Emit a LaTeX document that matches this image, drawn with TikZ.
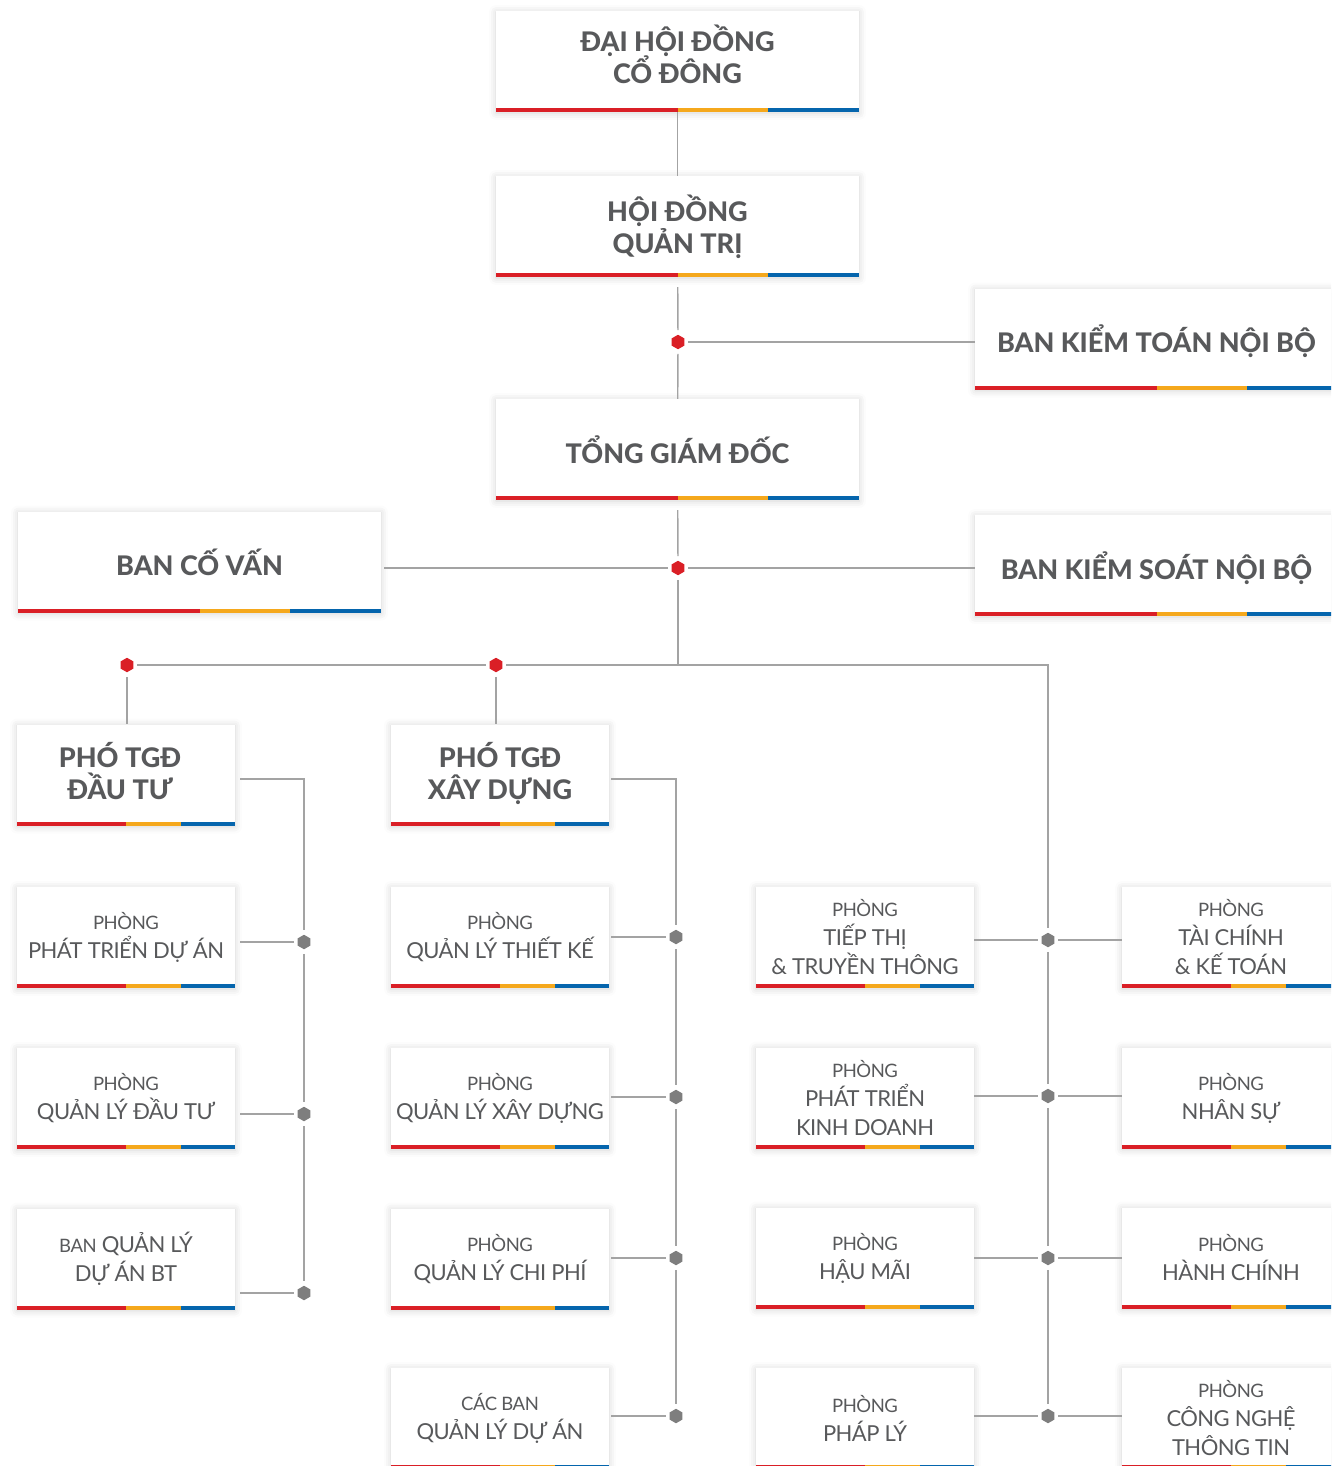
\documentclass[tikz,border=0pt]{standalone}
\usepackage{fontspec}
\setmainfont{Lato}
\newfontfamily\headfont{Lato Heavy}
\newfontfamily\deptfont[LetterSpace=-2.5]{Lato}
\usetikzlibrary{calc,shapes.geometric,shadows.blur}
\definecolor{barred}{HTML}{DA1F26}
\definecolor{barorange}{HTML}{F5A81C}
\definecolor{barblue}{HTML}{0565AD}
\definecolor{inkgray}{HTML}{58595B}
\definecolor{linegray}{HTML}{A3A3A3}
\definecolor{dotgray}{HTML}{7E7E7E}
\newcommand{\lead}{\fontsize{18.5}{29}\selectfont}
\newcommand{\headsize}{\headfont\fontsize{27}{32}\selectfont\setlength{\lineskiplimit}{-50pt}}

\tikzset{
  orgbox/.style={fill=white, inner sep=0pt, text=inkgray, align=center, minimum height=101pt,
    blur shadow={shadow xshift=0pt, shadow yshift=-1pt, shadow blur radius=7pt, shadow opacity=18}},
  wide/.style={orgbox, minimum width=363pt, font=\headsize},
  chief/.style={orgbox, minimum width=218pt, font=\headsize, text height=50pt, text depth=1pt},
  dept/.style={orgbox, minimum width=218pt, font=\deptfont\fontsize{22}{29}\selectfont},
  hub/.style={regular polygon, regular polygon sides=6, shape border rotate=30, minimum size=14.5pt,
    inner sep=0pt, outer sep=4pt, fill=dotgray},
  keyhub/.style={hub, fill=barred},
  link/.style={draw=linegray, line width=1.4pt},
}

\begin{document}
\begin{tikzpicture}[x=1pt, y=-1pt]
  \useasboundingbox (0,0) rectangle (1331,1466);
  \clip (0,0) rectangle (1331,1466);
  % top levels
  \node[wide, text height=45pt, text depth=0.5pt] (dhcd) at (677.5,61.5) {ĐẠI HỘI ĐỒNG\\CỔ ĐÔNG};
  \node[wide] (hdqt) at (677.5,226.5) {HỘI ĐỒNG\\QUẢN TRỊ};
  \node[wide, text depth=-7pt] (bktnb) at (1156.5,339) {BAN KIỂM TOÁN NỘI BỘ};
  \node[wide] (tgd) at (677.5,449.5) {TỔNG GIÁM ĐỐC};
  \node[wide, text depth=-8pt] (bcv) at (199.5,562) {BAN CỐ VẤN};
  \node[wide, text depth=-6pt] (bksnb) at (1156.5,565.5) {BAN KIỂM SOÁT NỘI BỘ};
  \node[chief] (ptdt) at (126,775) {PHÓ TGĐ\hspace*{12pt}\\ĐẦU TƯ\hspace*{12pt}};
  \node[chief] (ptxd) at (500,775) {PHÓ TGĐ\\XÂY DỰNG};
  % departments
  \node[dept] (pda) at (126,937.5) {{\lead PHÒNG}\\PHÁT TRIỂN DỰ ÁN};
  \node[dept] (qldt) at (126,1098.5) {{\lead PHÒNG}\\QUẢN LÝ ĐẦU TƯ};
  \node[dept] (bqlbt) at (126,1259) {{\lead BAN} QUẢN LÝ\\DỰ ÁN BT};
  \node[dept] (qltk) at (500,937.5) {{\lead PHÒNG}\\QUẢN LÝ THIẾT KẾ};
  \node[dept] (qlxd) at (500,1098.5) {{\lead PHÒNG}\\QUẢN LÝ XÂY DỰNG};
  \node[dept] (qlcp) at (500,1259) {{\lead PHÒNG}\\QUẢN LÝ CHI PHÍ};
  \node[dept] (cbql) at (500,1418.5) {{\lead CÁC BAN}\\QUẢN LÝ DỰ ÁN};
  \node[dept] (tttt) at (865,937.5) {{\lead PHÒNG}\\TIẾP THỊ\\\& TRUYỀN THÔNG};
  \node[dept] (ptkd) at (865,1098) {{\lead PHÒNG}\\PHÁT TRIỂN\\KINH DOANH};
  \node[dept] (hm) at (865,1258) {{\lead PHÒNG}\\HẬU MÃI};
  \node[dept] (pl) at (865,1418.5) {{\lead PHÒNG}\\PHÁP LÝ};
  \node[dept] (tckt) at (1231,937.5) {{\lead PHÒNG}\\TÀI CHÍNH\\\& KẾ TOÁN};
  \node[dept] (ns) at (1231,1098) {{\lead PHÒNG}\\NHÂN SỰ};
  \node[dept] (hc) at (1231,1258) {{\lead PHÒNG}\\HÀNH CHÍNH};
  \node[dept] (cntt) at (1231,1418.5) {{\lead PHÒNG}\\CÔNG NGHỆ\\THÔNG TIN};
  % colour bars
  \foreach \n in {dhcd,hdqt,bktnb,tgd,bcv,bksnb,ptdt,ptxd,pda,qldt,bqlbt,qltk,qlxd,qlcp,cbql,tttt,ptkd,hm,pl,tckt,ns,hc,cntt}{
    \fill[barred] (\n.south west) rectangle ($(\n.south west)!.5!(\n.south east)+(0pt,4pt)$);
    \fill[barorange] ($(\n.south west)!.5!(\n.south east)$) rectangle ($(\n.south west)!.75!(\n.south east)+(0pt,4pt)$);
    \fill[barblue] ($(\n.south west)!.75!(\n.south east)$) rectangle ($(\n.south east)+(0pt,4pt)$);
  }
  % hubs
  \node[keyhub] (j1) at (678,342) {};
  \node[keyhub] (j2) at (678,568) {};
  \node[keyhub] (j3) at (127,665) {};
  \node[keyhub] (j4) at (496,665) {};
  \node[hub] (a1) at (304,942) {};
  \node[hub] (a2) at (304,1114) {};
  \node[hub] (a3) at (304,1293) {};
  \node[hub] (b1) at (676,937) {};
  \node[hub] (b2) at (676,1097) {};
  \node[hub] (b3) at (676,1258) {};
  \node[hub] (b4) at (676,1416) {};
  \node[hub] (c1) at (1048,940) {};
  \node[hub] (c2) at (1048,1096) {};
  \node[hub] (c3) at (1048,1258) {};
  \node[hub] (c4) at (1048,1416) {};
  \coordinate (k1) at (678,665);
  \coordinate (k2) at (1048,665);
  \coordinate (k3) at (304,779);
  \coordinate (k4) at (676,779);
  %
  \path[link]
    (dhcd) edge (hdqt)
    (hdqt) edge[shorten <=10pt] (j1)
    (j1) edge (tgd)
    (j1) edge (bktnb.west |- j1)
    (tgd) edge[shorten <=10pt] (j2)
    (j2) edge[shorten >=3pt] (bcv.east |- j2)
    (j2) edge (bksnb.west |- j2)
    (j2) edge (k1)
    (j3) edge (j4)
    (j3) edge (j3 |- ptdt.north)
    (j4) edge (j4 |- ptxd.north)
    (a1) edge (a2) (a2) edge (a3)
    (b1) edge (b2) (b2) edge (b3) (b3) edge (b4)
    (c1) edge (c2) (c2) edge (c3) (c3) edge (c4)
    (pda.east |- a1) edge[shorten <=5pt] (a1)
    (qldt.east |- a2) edge[shorten <=5pt] (a2)
    (bqlbt.east |- a3) edge[shorten <=5pt] (a3)
    (qltk.east |- b1) edge[shorten <=2pt] (b1)
    (qlxd.east |- b2) edge[shorten <=2pt] (b2)
    (qlcp.east |- b3) edge[shorten <=2pt] (b3)
    (cbql.east |- b4) edge[shorten <=2pt] (b4)
    (tttt.east |- c1) edge (c1) (c1) edge (tckt.west |- c1)
    (ptkd.east |- c2) edge (c2) (c2) edge (ns.west |- c2)
    (hm.east |- c3) edge (c3) (c3) edge (hc.west |- c3)
    (pl.east |- c4) edge (c4) (c4) edge (cntt.west |- c4);
  \draw[link] (j4) -- (k2) -- (c1);
  \draw[link, shorten <=5pt] (ptdt.east |- k3) -- (k3) -- (a1);
  \draw[link, shorten <=2pt] (ptxd.east |- k4) -- (k4) -- (b1);
\end{tikzpicture}
\end{document}
